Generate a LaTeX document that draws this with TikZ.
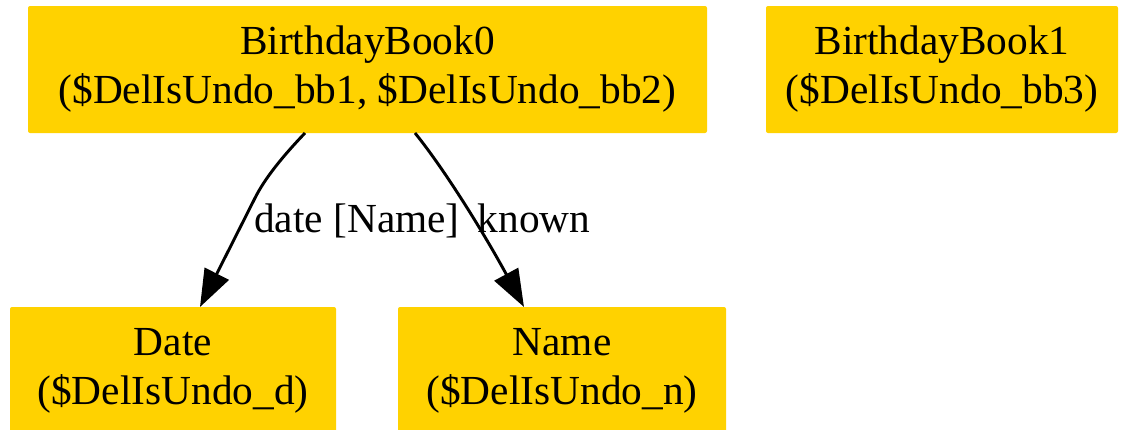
\documentclass[tikz,border=0pt]{standalone}
\usepackage{fontspec}
\setmainfont{Liberation Serif}
\usetikzlibrary{arrows.meta}
\definecolor{boxgold}{RGB}{255,210,0}
\tikzset{
  box/.style={fill=boxgold, draw=none, rounded corners=1.5pt, inner sep=0pt,
    align=center, font=\fontsize{31}{36.75}\selectfont, minimum height=127*0.75pt},
  conn/.style={line width=2.2pt, -{Triangle[length=28pt,width=20pt]}},
  lbl/.style={font=\fontsize{31}{36.75}\selectfont, inner sep=0pt, anchor=base}
}
\begin{document}
\begin{tikzpicture}[x=0.75pt,y=-0.75pt]
\useasboundingbox (0,0) rectangle (1124,429);
\node[box, minimum width=679*0.75pt] (b0) at (367.5,69.5) {BirthdayBook0\\(\$DelIsUndo\_bb1, \$DelIsUndo\_bb2)};
\node[box, minimum width=352*0.75pt] (b1) at (942,69.5) {BirthdayBook1\\(\$DelIsUndo\_bb3)};
\node[box, minimum width=326*0.75pt] (d) at (173,370.5) {Date\\(\$DelIsUndo\_d)};
\node[box, minimum width=328*0.75pt] (n) at (562,370.5) {Name\\(\$DelIsUndo\_n)};
\coordinate (e1s) at (305,133);
\coordinate (e1e) at (200,307);
\coordinate (e2s) at (415,133);
\coordinate (e2e) at (524,307);
\draw[conn] (e1s) .. controls (283,156) and (265,178) .. (255,198) -- (e1e);
\draw[conn] (e2s) .. controls (445,170) and (485,235) .. (e2e);
\node[lbl] (l1) at (357,232) {date [Name]};
\node[lbl] (l2) at (534,232) {known};
\end{tikzpicture}
\end{document}
